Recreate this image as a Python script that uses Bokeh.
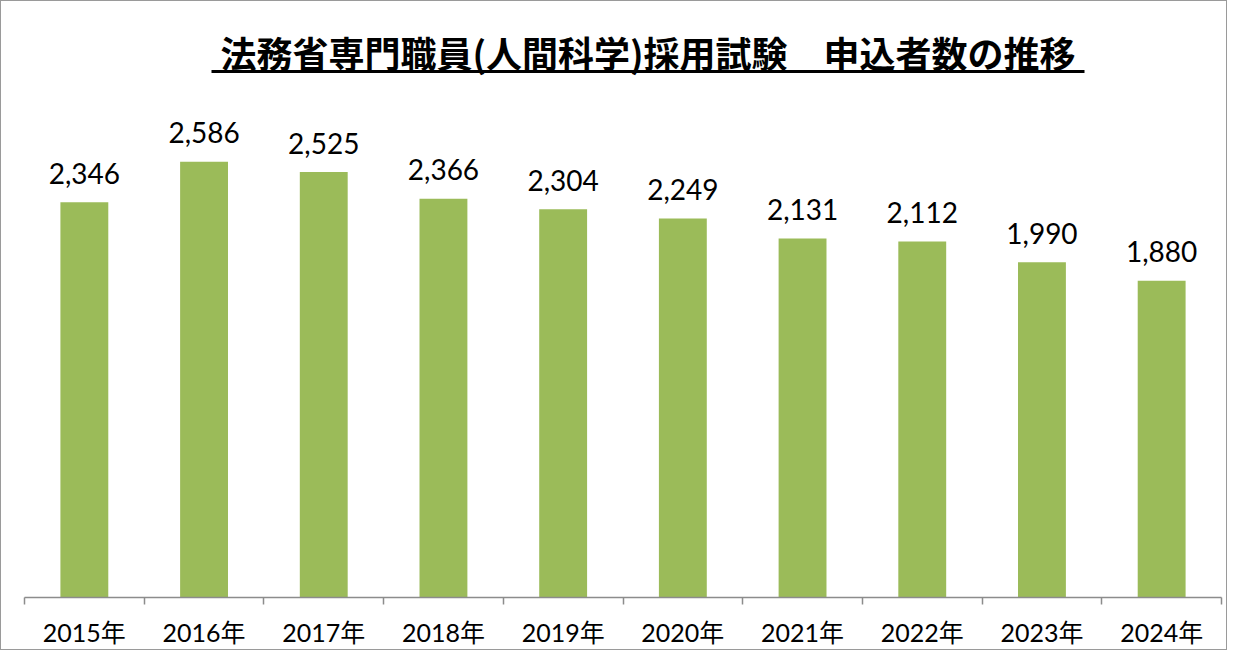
from bokeh.plotting import figure
from bokeh.models import ColumnDataSource, Range1d, LinearAxis, FixedTicker
from bokeh.core.properties import value
from bokeh.embed import file_html
from bokeh.resources import INLINE

# ---- data ----
years = ["2015年", "2016年", "2017年", "2018年", "2019年", "2020年", "2021年", "2022年", "2023年", "2024年"]
applicants = [2346, 2586, 2525, 2366, 2304, 2249, 2131, 2112, 1990, 1880]
title_text = "法務省専門職員(人間科学)採用試験\u3000申込者数の推移"

# ---- layout constants (pixels) ----
W, H = 1227, 650
LEFT, RIGHT, BOTTOM = 23, 7, 54
FRAME_W = W - LEFT - RIGHT
FRAME_H = H - BOTTOM
Y_END = 3537
n = len(years)

def px_to_x(px):
    return (px - LEFT) / FRAME_W * n

def py_to_y(py):
    return (FRAME_H - py) / FRAME_H * Y_END

centers = [i + 0.5 for i in range(n)]
bounds = [float(i) for i in range(n + 1)]
labels = [f"{v:,}" for v in applicants]

src = ColumnDataSource(dict(x=centers, top=applicants, label=labels, year=years))

p = figure(width=W, height=H, output_backend="svg", toolbar_location=None,
           x_range=Range1d(0, n), y_range=Range1d(0, Y_END),
           x_axis_location=None, y_axis_location=None,
           min_border_left=LEFT, min_border_right=RIGHT,
           min_border_top=0, min_border_bottom=BOTTOM)
p.outline_line_color = None
p.grid.visible = False
p.background_fill_color = "white"
p.border_fill_color = "white"
p.styles = {"border": "1px solid #9a9a9a"}

p.vbar(x="x", top="top", width=0.4, bottom=0, source=src,
       fill_color="#9BBB59", line_color=None)

p.text(x="x", y="top", text="label", source=src,
       text_align="center", text_baseline="middle", y_offset=-29,
       text_font=value("Lato"), text_font_size="28px", text_color="black")

axis = LinearAxis(ticker=FixedTicker(ticks=centers, minor_ticks=bounds),
                  major_label_overrides={c: y for c, y in zip(centers, years)})
axis.axis_line_color = "#8c8c8c"
axis.axis_line_width = 1.5
axis.major_tick_line_color = None
axis.major_tick_out = 7
axis.major_tick_in = 0
axis.minor_tick_line_color = "#8c8c8c"
axis.minor_tick_line_width = 1.5
axis.minor_tick_out = 7
axis.minor_tick_in = 0
axis.major_label_standoff = 12
axis.major_label_text_font = "Lato, 'Noto Sans CJK JP'"
axis.major_label_text_font_size = "25px"
axis.major_label_text_color = "black"
p.add_layout(axis, "below")

# ---- title with underline ----
TITLE_L, TITLE_R, TITLE_MID_Y, UNDERLINE_Y = 210, 1083, 50, 70
p.text(x=[px_to_x((TITLE_L + TITLE_R) / 2)], y=[py_to_y(TITLE_MID_Y)], text=[title_text],
       text_align="center", text_baseline="middle",
       text_font=value("Noto Sans CJK JP"), text_font_size="36px",
       text_font_style="bold", text_color="black")
p.segment(x0=[px_to_x(TITLE_L)], y0=[py_to_y(UNDERLINE_Y)],
          x1=[px_to_x(TITLE_R)], y1=[py_to_y(UNDERLINE_Y)],
          line_color="black", line_width=3)

open("out.html", "w").write(file_html(p, INLINE))
